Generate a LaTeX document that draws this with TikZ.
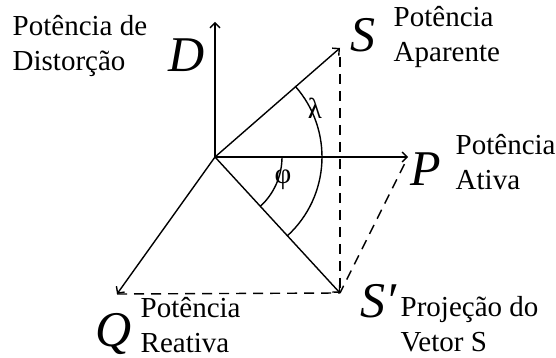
\documentclass[tikz,border=0pt]{standalone}
\usepackage{fontspec}
\setmainfont{Liberation Serif}
\usetikzlibrary{calc,arrows.meta}
\begin{document}
\begin{tikzpicture}[x=1pt,y=1pt,>={Straight Barb[length=5pt,width=10pt]},line width=1.4pt,line join=round,line cap=round,
	txt/.style={font=\fontsize{29}{35}\selectfont,align=left,anchor=base west,inner sep=0pt},
	big/.style={font=\fontsize{50}{50}\selectfont\itshape,anchor=base west,inner sep=0pt},
	proj/.style={dash pattern=on 10pt off 7pt,line cap=butt}]
	\useasboundingbox (0,0) rectangle (556,358);
	\coordinate (O) at (215,201);
	\coordinate (D) at (215,336);
	\coordinate (S) at (340,310);
	\coordinate (P) at (408,201);
	\coordinate (Q) at (117,64);
	\coordinate (Sp) at (340,65);
	\foreach \v in {D,S,P,Q,Sp}
	{\draw[->] (O)--(\v);}
	\draw[proj,shorten <=9pt] (S)--(Sp);
	\draw[proj,shorten <=8pt] (P)--(Sp);
	\draw[proj] (Q)--(Sp);
	\draw ($(O)+(0:67)$) arc[start angle=0,end angle=-47.4,radius=67];
	\draw ($(O)+(41.3:107)$) arc[start angle=41.3,end angle=-47.4,radius=107];
	\node[font=\fontsize{29}{29}\selectfont] (lam) at (315,250) {λ};
	\node[font=\fontsize{29}{29}\selectfont] (phi) at (283,178) {φ};
	\node[big] (Dl) at (168,286) {D};
	\node[big] (Sl) at (350,306) {S};
	\node[big] (Pl) at (410,172) {P};
	\node[big] (Ql) at (95,11) {Q};
	\node[big] (Spl) at (360,40) {S′};
	\node[txt] (tD) at (12,287) {Potência de\\Distorção};
	\node[txt] (tS) at (393,296) {Potência\\Aparente};
	\node[txt] (tP) at (455,168) {Potência\\Ativa};
	\node[txt] (tQ) at (140,5) {Potência\\Reativa};
	\node[txt] (tSp) at (400,6) {Projeção do\\Vetor S};
\end{tikzpicture}
\end{document}
